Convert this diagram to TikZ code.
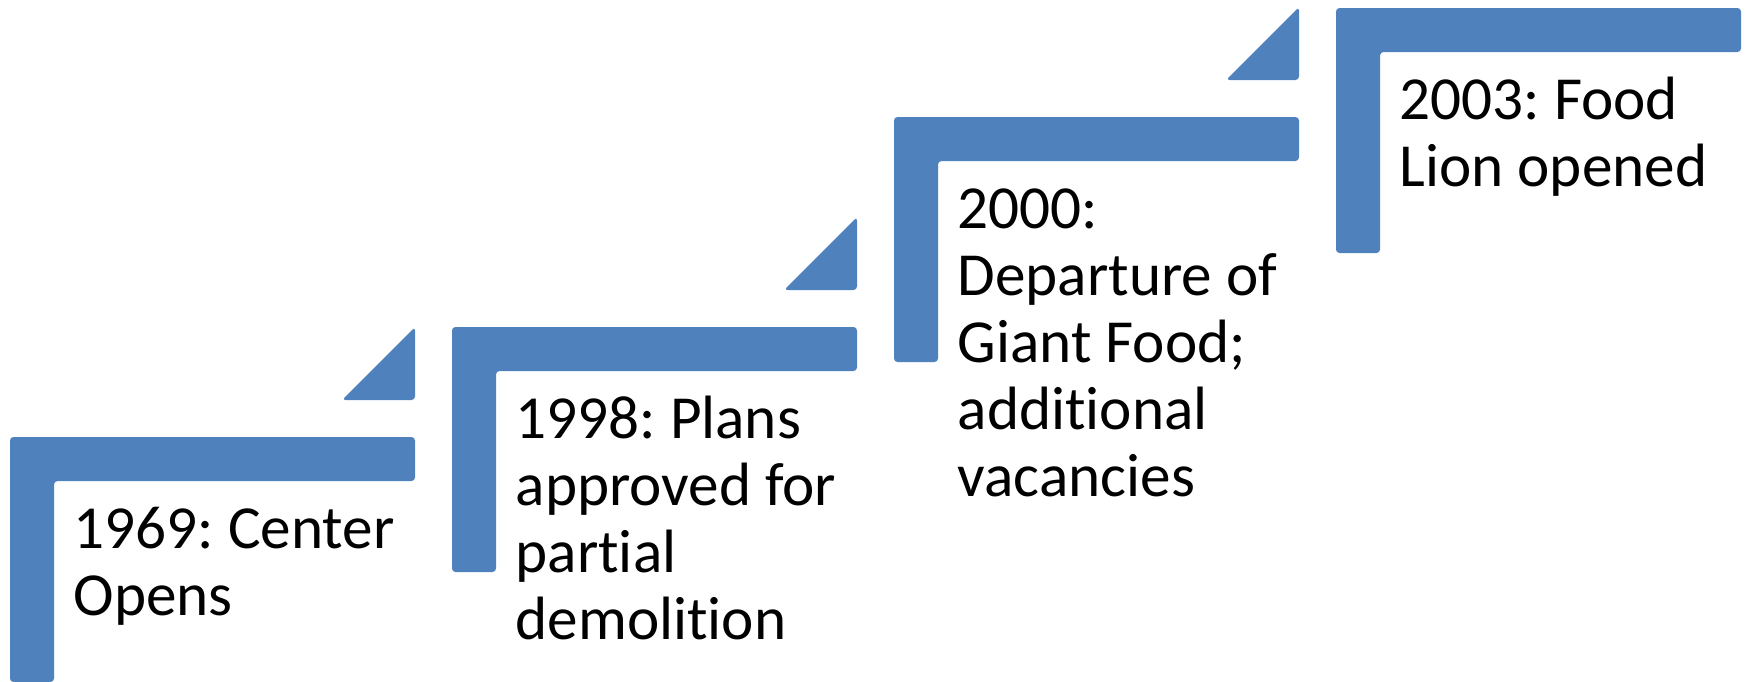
\documentclass[tikz,border=0pt]{standalone}
\usepackage{fontspec}
\setmainfont{Carlito}[Ligatures=NoCommon]
\frenchspacing
\usetikzlibrary{positioning}
\definecolor{stepblue}{HTML}{4F81BD}

\begin{document}
\begin{tikzpicture}[x=0.01cm, y=-0.01cm,
    stepbar/.style = {fill=stepblue, rounded corners=1pt},
    steplabel/.style = {anchor=base west, align=left, inner sep=0pt,
                        font=\fontsize{17.4}{19.1}\selectfont}]
    \useasboundingbox (0,0) rectangle (1745,681);

    % the four steps: left edge, top edge, number of lines, text
    \foreach \i/\x/\y/\n/\txt in {1/10/437/2/{1969: Center\\Opens},
                                  2/452/327/4/{1998: Plans\\approved for\\partial\\demolition},
                                  3/894/117/5/{2000:\\Departure of\\Giant Food;\\additional\\vacancies},
                                  4/1336/8/2/{2003: Food\\Lion opened}} {
        \fill[stepbar] (\x,\y) -- ++(405,0) -- ++(0,44) -- ++(-361,0)
                       -- ++(0,201) -- ++(-44,0) -- cycle;
        % base anchor sits on the last line
        \node[steplabel] (s\i) at (\x+63,\y+111+67.2*\n-67.2) {\txt};
    }

    % small triangles leading up to the next step
    \foreach \x/\y in {10/437, 452/327, 894/117}
        \fill[stepbar] (\x+405,\y-37) -- ++(-73,0) -- ++(73,-73) -- cycle;
\end{tikzpicture}
\end{document}
